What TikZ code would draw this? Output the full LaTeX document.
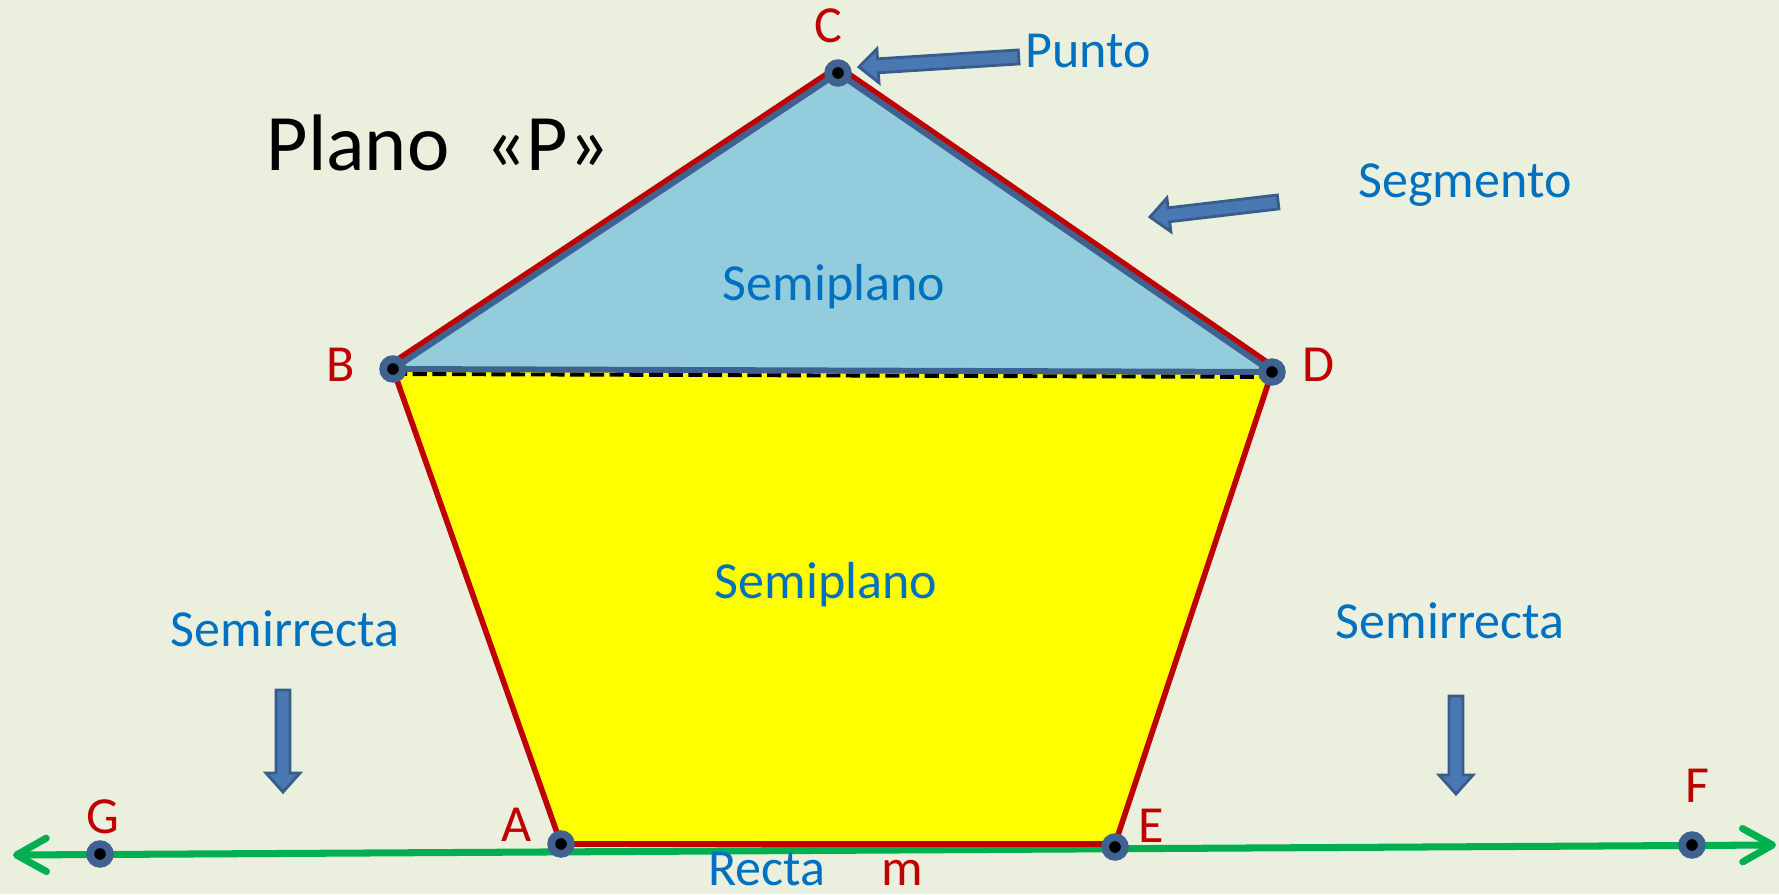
\documentclass[tikz,border=0pt]{standalone}
\usepackage{fontspec}
\setmainfont{Carlito}
\usetikzlibrary{arrows.meta}
\definecolor{bg}{RGB}{235,240,222}
\definecolor{tri}{RGB}{147,205,221}
\definecolor{ylw}{RGB}{255,255,0}
\definecolor{redl}{RGB}{192,0,0}
\definecolor{bluel}{RGB}{63,98,145}
\definecolor{grn}{RGB}{0,176,80}
\definecolor{txtblue}{RGB}{0,112,192}
\definecolor{arrfill}{RGB}{74,120,178}
\definecolor{arrdraw}{RGB}{56,93,138}
\tikzset{
  pics/barrow/.style={code={
    \filldraw[fill=arrfill,draw=arrdraw,line width=0.8pt,line join=miter]
      (0,0) -- (19,-17) -- (19,-7) -- (#1,-7) -- (#1,7) -- (19,7) -- (19,17) -- cycle;}},
  dot/.style={circle,fill=black,draw=bluel,line width=2.2pt,inner sep=0pt,minimum size=5.6pt},
  bluetxt/.style={text=txtblue,font=\fontsize{14.8}{17}\selectfont,inner sep=0pt,anchor=base},
  redtxt/.style={text=redl,font=\fontsize{14.8}{17}\selectfont,inner sep=0pt,anchor=base},
  redline/.style={draw=redl,line width=1.6pt,line cap=round,line join=round},
  trline/.style={draw=bluel,line width=1.7pt,line join=round},
  greenline/.style={draw=grn,line width=2pt,{Straight Barb[length=8.5pt,width=9.5pt,round]}-{Straight Barb[length=8.5pt,width=9.5pt,round]}},
  dashline/.style={draw=black,line width=1.1pt,dash pattern=on 4pt off 1.6pt}
}
\begin{document}
\begin{tikzpicture}[x=0.01cm,y=-0.01cm]
\useasboundingbox (0,0) rectangle (1779,894);
\fill[bg] (0,0) rectangle (1779,894);
% points
\coordinate (A) at (561,844);
\coordinate (B) at (393,369);
\coordinate (C) at (838,73);
\coordinate (D) at (1272,372);
\coordinate (E) at (1115,847);
\coordinate (G) at (100,854);
\coordinate (F) at (1692,845);
\coordinate (gl) at (13,855);
\coordinate (gr) at (1776,845);
% regions
\fill[ylw] (B) -- (D) -- (E) -- (A) -- cycle;
\fill[tri] (B) -- (C) -- (D) -- cycle;
% line m
\draw[greenline] (gl) -- (gr);
% red outline
\draw[redline] (B) -- (A) -- ([shift={(0,-3)}]E) -- (D);
\draw[redline] ([shift={(-3,-4.5)}]B) -- ([shift={(-3,-4.5)}]C);
\draw[redline] ([shift={(3,-4.4)}]C) -- ([shift={(3,-4.4)}]D);
% triangle outline
\draw[trline] (B) -- (C) -- (D) -- cycle;
\draw[dashline] ([shift={(0,5)}]B) -- ([shift={(0,5)}]D);
% dots
\foreach \p in {A,B,C,D,E,F,G} \node[dot] (d\p) at (\p) {};
% point labels
\node[redtxt] (lC) at (828,43) {C};
\node[redtxt] (lB) at (341,381) {B};
\node[redtxt] (lD) at (1318,381) {D};
\node[redtxt] (lA) at (517,841) {A};
\node[redtxt] (lE) at (1151,842) {E};
\node[redtxt] (lG) at (103,833) {G};
\node[redtxt] (lF) at (1697,802) {F};
\node[redtxt] (lm) at (902,885) {m};
% texts
\node[anchor=base west,inner sep=0pt,font=\fontsize{22.8}{26}\selectfont] (plano) at (266,171) {Plano\ \ «P»};
\node[bluetxt] (punto) at (1088,68) {Punto};
\node[bluetxt] (segm) at (1465,198) {Segmento};
\node[bluetxt] (sp1) at (834,300) {Semiplano};
\node[bluetxt] (sp2) at (826,598) {Semiplano};
\node[bluetxt] (sr1) at (285,646) {Semirrecta};
\node[bluetxt] (sr2) at (1450,638) {Semirrecta};
\node[bluetxt] (recta) at (767,885) {Recta};
% block arrows
\pic[rotate=3.6] at (859,67) {barrow=160};
\pic[rotate=6.7] at (1150,217) {barrow=129};
\pic[rotate=90] at (283,792) {barrow=102};
\pic[rotate=90] at (1456,794) {barrow=98};
\end{tikzpicture}
\end{document}
